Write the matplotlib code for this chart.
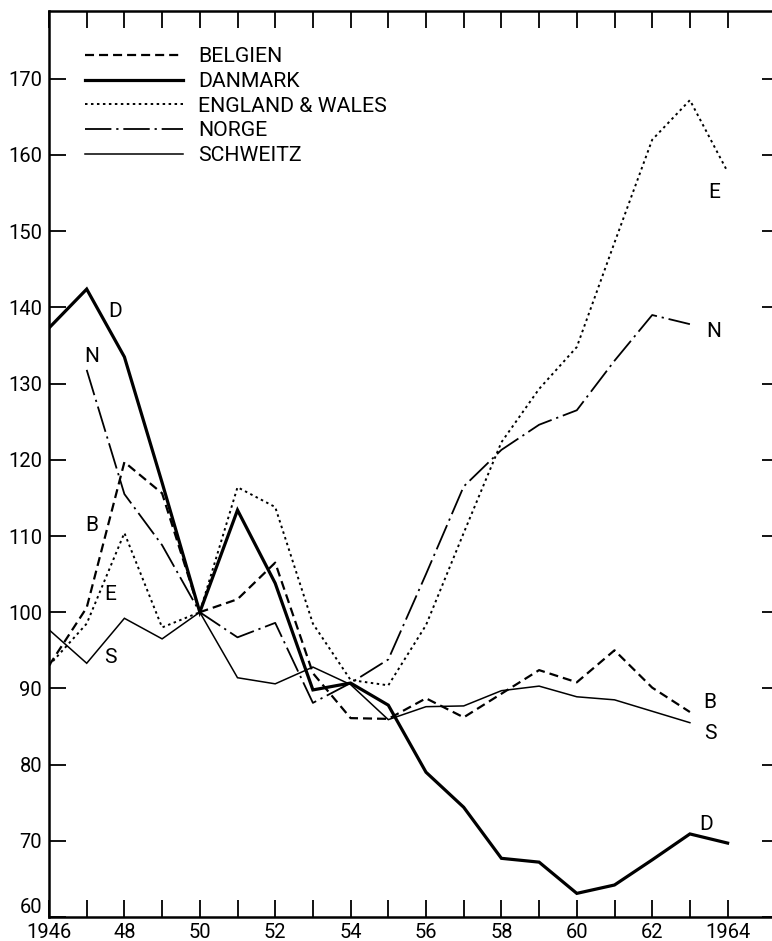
import numpy as np
import matplotlib
matplotlib.use("Agg")
import matplotlib.pyplot as plt
from matplotlib.ticker import FixedLocator, FixedFormatter

# ---------------- data ----------------
years = list(range(1946, 1965))
belgien = [93.0, 100.6, 119.7, 115.6, 100.0, 101.7, 106.5, 92.0, 86.1, 86.0,
           88.7, 86.2, 89.3, 92.4, 90.8, 95.0, 90.1, 86.9, np.nan]
danmark = [137.3, 142.4, 133.5, 117.0, 100.0, 113.4, 103.8, 89.8, 90.7, 87.8,
           79.0, 74.4, 67.7, 67.2, 63.1, 64.2, 67.5, 70.9, 69.7]
england = [93.0, 98.5, 110.4, 98.0, 100.0, 116.4, 113.8, 98.5, 91.1, 90.4,
           98.3, 110.4, 122.3, 129.3, 134.8, 148.5, 162.0, 167.2, 157.8]
norge = [np.nan, 131.8, 115.5, 108.8, 100.0, 96.7, 98.6, 88.1, 90.7, 93.8,
         105.0, 116.5, 121.3, 124.6, 126.5, 133.0, 139.0, 137.8, np.nan]
schweitz = [97.7, 93.3, 99.2, 96.5, 100.0, 91.4, 90.6, 92.8, 90.5, 85.9,
            87.6, 87.7, 89.7, 90.3, 88.9, 88.5, 87.0, 85.5, np.nan]

series_names = ["BELGIEN", "DANMARK", "ENGLAND & WALES", "NORGE", "SCHWEITZ"]
x_tick_labels = ["1946", "", "48", "", "50", "", "52", "", "54", "", "56", "",
                 "58", "", "60", "", "62", "", "1964"]
y_ticks = [60, 70, 80, 90, 100, 110, 120, 130, 140, 150, 160, 170]

# line-identifying letters: (letter, year, value)
left_letters = [("D", 1947.75, 139.4), ("N", 1947.14, 133.5), ("B", 1947.14, 111.4),
                ("E", 1947.62, 102.3), ("S", 1947.62, 94.0)]
right_letters = [("E", 1963.64, 155.1), ("N", 1963.64, 136.9), ("B", 1963.53, 88.1),
                 ("S", 1963.53, 84.1), ("D", 1963.43, 72.1)]

# ---------------- style ----------------
plt.rcParams["font.family"] = ["Roboto", "DejaVu Sans"]
plt.rcParams["lines.scale_dashes"] = False

W, H = 772, 941
fig = plt.figure(figsize=(W / 100, H / 100), dpi=100)
left_px, right_px, top_px, bottom_px = 49, 779, 11, 917
ax = fig.add_axes([left_px / W, (H - bottom_px) / H,
                   (right_px - left_px) / W, (bottom_px - top_px) / H])

styles = {
    "BELGIEN": dict(color="black", lw=1.6, linestyle=(0, (6.5, 3.6))),
    "DANMARK": dict(color="black", lw=2.3, linestyle="-"),
    "ENGLAND & WALES": dict(color="black", lw=1.4, linestyle=(0, (1.8, 2.5))),
    "NORGE": dict(color="black", lw=1.3, linestyle=(0, (19, 3.5, 1.6, 3.5))),
    "SCHWEITZ": dict(color="black", lw=1.1, linestyle="-"),
}
data = [belgien, danmark, england, norge, schweitz]
for name, vals in zip(series_names, data):
    ax.plot(years, vals, label=name, solid_joinstyle="miter", **styles[name])

for letter, xx, yy in left_letters + right_letters:
    ax.text(xx, yy, letter, fontsize=15, ha="center", va="center", color="black")

ax.set_xlim(1946, 1946 + (right_px - left_px) / 37.7)
ax.set_ylim(60, 60 + (bottom_px - top_px) / 7.62)

ax.xaxis.set_major_locator(FixedLocator(years))
ax.xaxis.set_major_formatter(FixedFormatter(x_tick_labels))
ax.yaxis.set_major_locator(FixedLocator(y_ticks))
ax.tick_params(axis="both", direction="in", length=12, width=1.3,
               top=True, right=True, labelsize=14.5, colors="black")
ax.tick_params(axis="x", pad=4)
ax.tick_params(axis="y", pad=5)

for s in ax.spines.values():
    s.set_linewidth(1.8)

leg = ax.legend(loc="upper left", bbox_to_anchor=(0.049, 0.960), frameon=False,
                fontsize=15.3, handlelength=4.6, handletextpad=0.75,
                labelspacing=0.27, borderpad=0, borderaxespad=0)

fig.canvas.draw()
# lift the lowest y label ("60") above the corner, as in the original
ax.yaxis.get_major_ticks()[0].label1.set_verticalalignment("bottom")

fig.savefig("out.png", dpi=100)
